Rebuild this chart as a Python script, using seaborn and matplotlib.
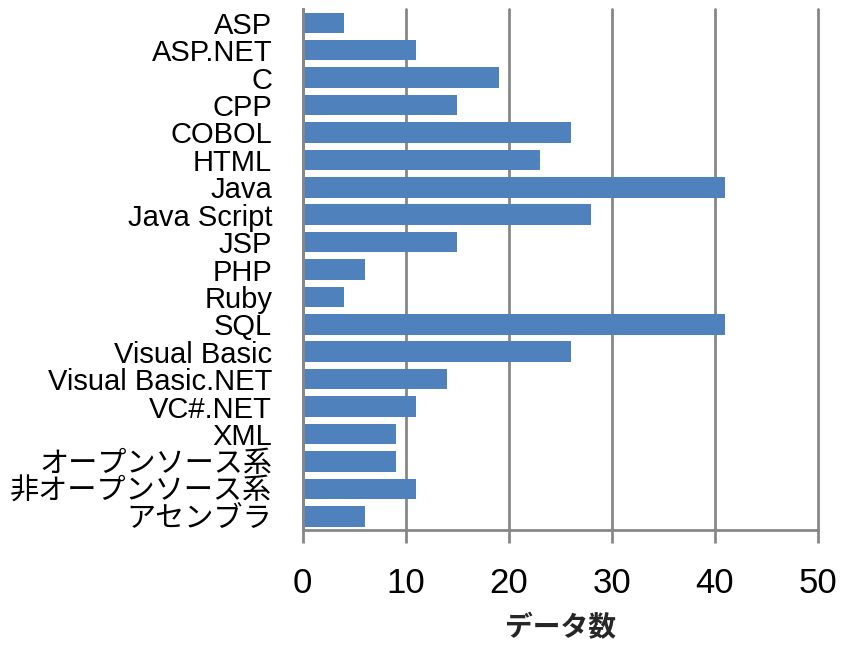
import matplotlib
matplotlib.use("Agg")
import matplotlib.pyplot as plt
import seaborn as sns
import pandas as pd

categories = ["ASP", "ASP.NET", "C", "CPP", "COBOL", "HTML", "Java", "Java Script",
              "JSP", "PHP", "Ruby", "SQL", "Visual Basic", "Visual Basic.NET",
              "VC#.NET", "XML", "オープンソース系", "非オープンソース系", "アセンブラ"]
values = [4, 11, 19, 15, 26, 23, 41, 28, 15, 6, 4, 41, 26, 14, 11, 9, 9, 11, 6]
x_ticks = [0, 10, 20, 30, 40, 50]
x_label = "データ数"

sns.set_theme(style="white")
plt.rcParams['font.family'] = ['Liberation Sans', 'Noto Sans CJK JP', 'DejaVu Sans']

df = pd.DataFrame({"cat": categories, "val": values})

fig = plt.figure(figsize=(8.41, 6.49), dpi=100)
ax = fig.add_axes([0.360, 0.1834, 0.6127, 0.8026])

sns.barplot(data=df, x="val", y="cat", orient="h", color="#4F81BD", saturation=1,
            width=0.75, edgecolor="none", ax=ax, zorder=3)

ax.set_xlim(0, 50)
ax.set_ylim(len(categories) - 0.5, -0.5)
ax.set_xticks(x_ticks)
ax.set_xticklabels([str(t) for t in x_ticks], fontsize=25)
ax.tick_params(axis="x", length=9, width=2, color="#878787", direction="out", pad=18, bottom=True)
ax.tick_params(axis="y", length=0, labelsize=21, pad=22)
for lbl in ax.get_yticklabels():
    lbl.set_color("#000000")
for lbl in ax.get_xticklabels():
    lbl.set_color("#000000")

ax.grid(axis="x", color="#878787", linewidth=2, zorder=0)
for gl in ax.get_xgridlines():
    gl.set_clip_on(False)
ax.grid(axis="y", visible=False)
for s in ["top", "right"]:
    ax.spines[s].set_visible(False)
for s in ["left", "bottom"]:
    ax.spines[s].set_visible(True)
    ax.spines[s].set_color("#878787")
    ax.spines[s].set_linewidth(2)
    ax.spines[s].set_zorder(4)

ax.set_ylabel("")
ax.set_xlabel(x_label, fontsize=20, fontweight="bold", family=['Noto Sans CJK JP'], labelpad=10)

fig.savefig("out.png", dpi=100)
